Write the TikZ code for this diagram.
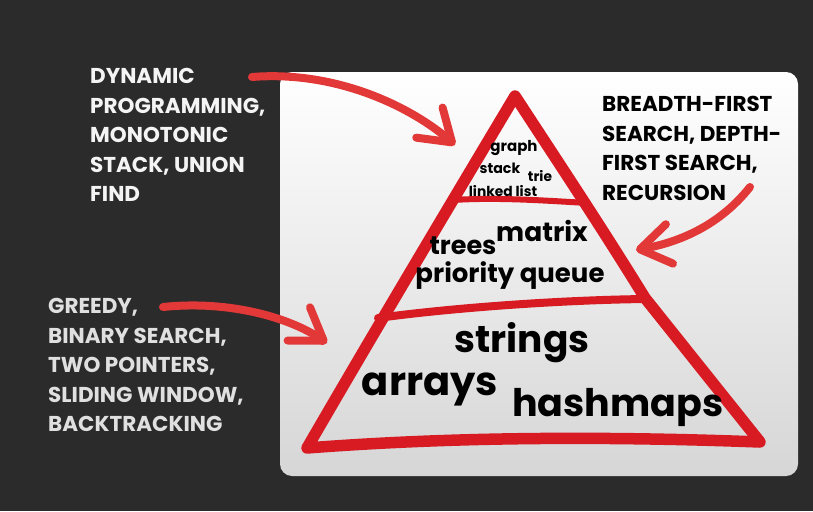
\documentclass[tikz,border=0pt]{standalone}
\usepackage{fontspec}
\setmainfont{Poppins}
\usetikzlibrary{arrows.meta}
\definecolor{bgdark}{HTML}{2B2B2B}
\definecolor{pyrred}{HTML}{D81B22}
\definecolor{arrred}{HTML}{E23838}
\definecolor{cardlow}{HTML}{D6D6D6}
\definecolor{lighttext}{HTML}{F4F4F4}
\begin{document}
\begin{tikzpicture}[x=1pt,y=-1pt,
  lbl/.style={font=\bfseries\fontsize{21.5}{29.6}\selectfont, align=left,
    anchor=north west, inner sep=0pt},
  ds/.style={font=\bfseries, text=black, inner sep=0pt},
  pyr/.style={draw=pyrred, line width=11.5pt, line cap=round, line join=round},
  divider/.style={draw=pyrred, line cap=round, line join=round},
  pointer/.style={draw=arrred, line width=8pt, line cap=round, line join=round,
    -{Straight Barb[length=30pt,width=40pt,line cap=round,line join=round]}}]

% page and card
\fill[bgdark] (0,0) rectangle (813,511);
\useasboundingbox (0,0) rectangle (813,511);
\shade[rounded corners=12pt, top color=white, middle color=white,
  bottom color=cardlow] (280,72) rectangle (798,476);

% pyramid outline
\path[pyr] (307,448) .. controls (380,322) and (450,205) .. (515,96)
  .. controls (560,165) and (600,225) .. (645,298)
  -- (760,442)
  .. controls (600,436) and (450,437) .. cycle;
% tier dividers
\path[divider, line width=6pt] (453,200) .. controls (500,197) and (550,201) .. (588,203);
\path[divider, line width=8pt] (378,318) .. controls (450,308) and (560,300) .. (646,299);

% data structures, top to bottom
\node[ds, font=\bfseries\fontsize{15}{15}\selectfont] (graph) at (514,148) {graph};
\node[ds, font=\bfseries\fontsize{14.2}{14}\selectfont] (stack) at (500,168) {stack};
\node[ds, font=\bfseries\fontsize{13.8}{14}\selectfont] (trie) at (540,176) {trie};
\node[ds, font=\bfseries\fontsize{13.8}{14}\selectfont] (linked) at (503,191) {linked list};
\node[ds, font=\bfseries\fontsize{26.5}{26}\selectfont] (matrix) at (542,231) {matrix};
\node[ds, font=\bfseries\fontsize{25.5}{26}\selectfont] (trees) at (463,246) {trees};
\node[ds, font=\bfseries\fontsize{26}{26}\selectfont] (pq) at (510,276) {priority queue};
\node[ds, font=\bfseries\fontsize{37.5}{38}\selectfont] (strings) at (522,343) {strings};
\node[ds, font=\bfseries\fontsize{40}{40}\selectfont] (arrays) at (430,389) {arrays};
\node[ds, font=\bfseries\fontsize{38}{38}\selectfont] (hashmaps) at (618,407) {hashmaps};

% technique labels
\node[lbl, text=lighttext] (dp) at (90,68)
  {DYNAMIC\\PROGRAMMING,\\MONOTONIC\\STACK, UNION\\FIND};
\node[lbl, text=black] (bfs) at (602,96)
  {BREADTH-FIRST\\SEARCH, DEPTH-\\FIRST SEARCH,\\RECURSION};
\node[lbl, text=lighttext!92!black] (greedy) at (48,298)
  {GREEDY,\\BINARY SEARCH,\\TWO POINTERS,\\SLIDING WINDOW,\\BACKTRACKING};

% pointer ends
\coordinate (dpstart) at (252,77);
\coordinate (toptip) at (455,145);
\coordinate (bfsstart) at (750,187);
\coordinate (midtip) at (636,250);
\coordinate (grstart) at (163,307);
\coordinate (lowtip) at (327,343);

% pointers
\draw[pointer] (dpstart) .. controls (340,70) and (415,110) .. (toptip);
\draw[pointer] (bfsstart) .. controls (720,225) and (680,242) .. (midtip);
\draw[pointer] (grstart) .. controls (230,300) and (290,318) .. (lowtip);
\end{tikzpicture}
\end{document}
